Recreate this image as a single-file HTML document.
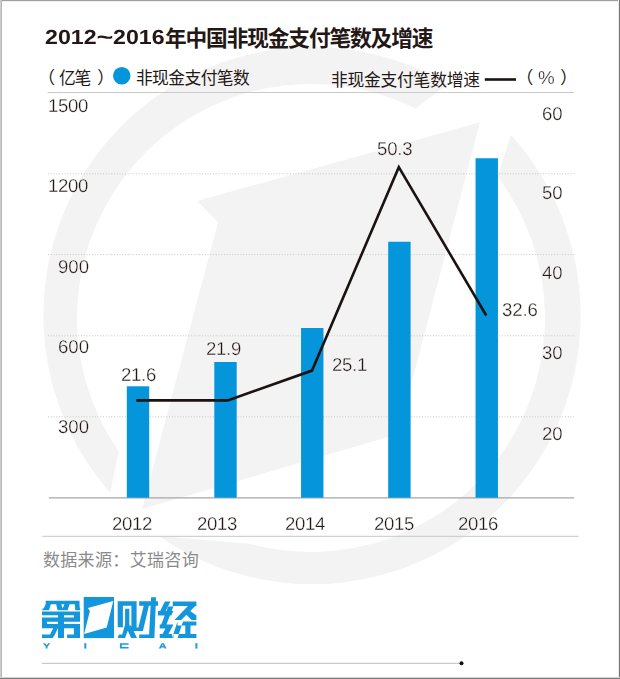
<!DOCTYPE html>
<html lang="zh-CN"><head><meta charset="utf-8"><title>2012~2016年中国非现金支付笔数及增速</title>
<style>
html,body{margin:0;padding:0;background:#fff}
body{width:620px;height:679px;position:relative;overflow:hidden;font-family:"Liberation Sans","Noto Sans CJK SC",sans-serif;color:#231815}
svg{position:absolute;left:0;top:0}
svg text{font-family:"Liberation Sans","Noto Sans CJK SC",sans-serif}
.t{position:absolute;line-height:1;white-space:nowrap;text-rendering:geometricPrecision;-webkit-text-stroke:0.3px #fff;will-change:transform}
.b{-webkit-text-stroke:0}
</style></head><body>
<svg width="620" height="679" viewBox="0 0 620 679">
<path d="M448.0,84.0 A268.5,268.5 0 0 0 110.2,492.7 L118.7,451.3 A234,234 0 0 1 415.5,108.6 Z M510.9,135.1 A268.5,268.5 0 0 1 158.9,536.1 L249.3,543.7 A234,234 0 0 0 497.5,176.7 Z" fill="#f3f3f3"/>
<path d="M197.1,201 L480,122.3 L398.2,434 L142,509 L218,222.3 Z" fill="#f3f3f3"/>
<line x1="48" y1="416.8" x2="575" y2="416.8" stroke="#c8c8c8" stroke-width="1" stroke-dasharray="1 1.75"/>
<line x1="48" y1="335.8" x2="575" y2="335.8" stroke="#c8c8c8" stroke-width="1" stroke-dasharray="1 1.75"/>
<line x1="48" y1="254.6" x2="575" y2="254.6" stroke="#c8c8c8" stroke-width="1" stroke-dasharray="1 1.75"/>
<line x1="48" y1="173.8" x2="575" y2="173.8" stroke="#c8c8c8" stroke-width="1" stroke-dasharray="1 1.75"/>
<line x1="47.5" y1="92.5" x2="574" y2="92.5" stroke="#c9c9c9" stroke-width="1"/>
<line x1="48.8" y1="497.9" x2="574" y2="497.9" stroke="#a6a6a6" stroke-width="1.2"/>
<line x1="42.2" y1="536.3" x2="578.5" y2="536.3" stroke="#c6c6c6" stroke-width="1"/>
<rect x="126.80" y="386.3" width="22.4" height="111.40" fill="#0595da"/>
<rect x="214.30" y="362" width="22.4" height="135.70" fill="#0595da"/>
<rect x="301.05" y="328" width="22.4" height="169.70" fill="#0595da"/>
<rect x="388.20" y="241.75" width="22.4" height="255.95" fill="#0595da"/>
<rect x="475.55" y="158.25" width="22.4" height="339.45" fill="#0595da"/>
<polyline fill="none" stroke="#1a1311" stroke-width="2.6" stroke-linejoin="miter" points="136.2,400.4 227.8,400.4 312,370.6 398.8,167.2 486.3,315.5"/>
<circle cx="121.75" cy="75.75" r="8.75" fill="#0595da"/>
<line x1="484.8" y1="79.5" x2="516" y2="79.5" stroke="#1a1311" stroke-width="2.6"/>
<line x1="42" y1="663.3" x2="461" y2="663.3" stroke="#bdbdbd" stroke-width="1"/>
<circle cx="461.5" cy="663.3" r="2" fill="#111"/>
<text x="164.95" y="45.7" font-size="21.7" font-weight="bold" letter-spacing="-1.12" fill="#231815">年中国非现金支付笔数及增速</text>
<text x="59" y="83.7" font-size="16.8" letter-spacing="-1.2" fill="#231815">亿笔</text>
<text x="38" y="84.15" font-size="17" fill="#231815">（</text>
<text x="97.3" y="84.15" font-size="17" fill="#231815">）</text>
<text x="135.94" y="83.7" font-size="16.8" letter-spacing="-0.6" fill="#231815">非现金支付笔数</text>
<text x="330.94" y="85.7" font-size="16.8" letter-spacing="-0.25" fill="#231815">非现金支付笔数增速</text>
<text x="42.9" y="566.2" font-size="17" letter-spacing="0.35" fill="#8a8a8a">数据来源：艾瑞咨询</text>
<text x="516.3" y="84.3" font-size="17" fill="#231815">（</text>
<text x="560.2" y="84.3" font-size="17" fill="#231815">）</text>
<rect x="0" y="1" width="620" height="1" fill="#efefef"/>
<rect x="0" y="0" width="620" height="1" fill="#9e9e9e"/>
<rect x="0" y="0" width="1" height="679" fill="#cecece"/>
<rect x="1" y="0" width="1" height="679" fill="#b6b6b6"/>
<rect x="618" y="0" width="1" height="679" fill="#ececec"/>
<rect x="619" y="0" width="1" height="679" fill="#757575"/>
<rect x="0" y="677" width="620" height="1" fill="#d2d2d2"/>
<rect x="0" y="678" width="620" height="1" fill="#7c7c7c"/>
<g fill="#1496dc">
<path d="M45.70,600.70 L79.50,600.70 L79.50,604.20 L45.70,604.20Z M45.70,604.00 L50.90,604.00 L49.00,610.20 L42.90,610.20Z M42.40,608.40 L49.20,608.40 L49.20,610.20 L42.40,610.20Z M56.10,604.00 L61.20,604.00 L63.20,610.20 L57.60,610.20Z M64.50,604.00 L69.60,604.00 L67.70,610.20 L61.90,610.20Z M57.80,608.40 L67.50,608.40 L67.50,610.20 L57.80,610.20Z M74.80,604.00 L79.50,604.00 L80.00,610.20 L75.40,610.20Z M75.20,608.40 L80.30,608.40 L80.30,610.20 L75.20,610.20Z M42.00,611.40 L80.00,611.40 L80.00,615.30 L42.00,615.30Z M73.90,611.40 L80.00,611.40 L80.00,621.70 L73.90,621.70Z M42.00,617.50 L80.00,617.50 L80.00,621.70 L42.00,621.70Z M42.00,617.50 L47.10,617.50 L47.10,628.20 L42.00,628.20Z M42.00,623.90 L80.00,623.90 L80.00,628.20 L42.00,628.20Z M58.00,611.40 L64.00,611.40 L64.00,638.10 L58.00,638.10Z M73.90,623.90 L80.00,623.90 L80.00,638.10 L73.90,638.10Z M67.10,634.60 L80.00,634.60 L80.00,638.10 L67.10,638.10Z M53.60,627.50 L58.20,627.50 L54.00,636.50 L49.00,636.50Z M42.00,634.60 L53.20,634.60 L53.20,638.10 L42.00,638.10Z M117.70,601.30 L136.60,601.30 L136.60,605.80 L117.70,605.80Z M117.70,601.30 L122.90,601.30 L122.90,627.20 L117.70,627.20Z M131.40,601.30 L136.60,601.30 L136.60,631.00 L131.40,631.00Z M125.10,608.70 L129.30,608.70 L129.30,627.00 L125.10,627.00Z M125.10,624.40 L129.90,624.40 L125.10,638.10 L117.70,638.10 L118.80,634.40 L122.20,634.40Z M126.60,628.10 L130.70,625.20 L137.00,638.10 L131.10,638.10Z M139.20,601.30 L158.00,601.30 L158.00,605.80 L139.20,605.80Z M151.10,597.20 L156.00,597.20 L154.40,638.10 L148.90,638.10Z M139.20,634.40 L150.00,634.40 L150.00,638.10 L139.20,638.10Z M143.70,605.80 L148.90,605.80 L142.90,631.10 L134.00,631.10 L135.20,627.60 L138.40,627.60Z M164.90,601.50 L170.50,601.50 L163.40,615.50 L157.90,615.50Z M157.90,611.10 L173.40,611.10 L171.20,615.50 L157.90,615.50Z M168.20,606.60 L173.40,606.60 L164.90,628.50 L159.70,628.50Z M159.70,624.40 L173.40,624.40 L171.40,628.50 L159.70,628.50Z M167.50,624.40 L173.40,624.40 L166.40,638.10 L160.50,638.10Z M159.70,634.10 L172.00,634.10 L172.00,638.10 L159.70,638.10Z M172.00,638.10 L177.50,638.10 L183.00,621.50 L177.50,621.50Z M172.70,601.50 L196.40,601.50 L196.40,605.90 L172.70,605.90Z M187.90,605.90 L195.30,605.90 L181.20,620.00 L174.50,620.00Z M183.40,611.80 L187.90,609.20 L196.40,615.50 L196.40,620.00 L191.60,620.00Z M177.50,621.50 L196.40,621.50 L196.40,625.50 L177.50,625.50Z M185.30,625.50 L190.50,625.50 L190.50,634.10 L185.30,634.10Z M173.40,634.10 L196.40,634.10 L196.40,638.10 L173.40,638.10Z"/>
<rect x="83.7" y="597" width="30.3" height="41.1"/>
</g>
<path fill="#fff" d="M113.3,601 L87.9,608.1 L89.9,611.1 L84.1,634.1 L106.7,627.6 Z"/>
<g fill="#1f9bdc">
<path d="M43.0,643.2 L45.1,643.2 L46.6,645.5 L48.1,643.2 L50.2,643.2 L47.5,646.7 L47.5,648.6 L45.7,648.6 L45.7,646.7 Z"/>
<rect x="84.30" y="643.20" width="2.00" height="5.40"/>
<path d="M119.9,643.2 H128.6 V644.7 H121.8 V647.1 H128.6 V648.6 H119.9 Z"/>
<path d="M161.6,643.2 H163.8 L166.6,648.6 H164.6 L164.1,647.4 H161.3 L160.8,648.6 H158.8 Z M162.7,644.6 L161.8,646.1 H163.6 Z" fill-rule="evenodd"/>
<rect x="195.40" y="643.20" width="2.00" height="5.40"/>
</g>
</svg>
<div class="t" style="left:45.4px;top:28px;font-size:20.5px;font-weight:bold;-webkit-text-stroke:0;transform:scaleX(1.13);transform-origin:0 0;">2012</div>
<div class="t" style="left:5px;width:200px;text-align:center;top:28px;font-size:20.5px;font-weight:bold;-webkit-text-stroke:0;transform:scaleX(1.4);">~</div>
<div class="t" style="left:112.9px;top:28px;font-size:20.5px;font-weight:bold;-webkit-text-stroke:0;transform:scaleX(1.13);transform-origin:0 0;">2016</div>
<div class="t" style="left:48px;top:97px;font-size:18.6px;letter-spacing:-0.3px;">1500</div>
<div class="t" style="left:48px;top:177px;font-size:18.6px;letter-spacing:-0.3px;">1200</div>
<div class="t" style="left:58px;top:258px;font-size:18.6px;">900</div>
<div class="t" style="left:58px;top:338px;font-size:18.6px;">600</div>
<div class="t" style="left:58px;top:418px;font-size:18.6px;">300</div>
<div class="t" style="left:542.4px;top:105px;font-size:18.6px;letter-spacing:-0.2px;">60</div>
<div class="t" style="left:542.4px;top:184px;font-size:18.6px;letter-spacing:-0.2px;">50</div>
<div class="t" style="left:542.4px;top:264px;font-size:18.6px;letter-spacing:-0.2px;">40</div>
<div class="t" style="left:542.4px;top:344px;font-size:18.6px;letter-spacing:-0.2px;">30</div>
<div class="t" style="left:542.4px;top:425px;font-size:18.6px;letter-spacing:-0.2px;">20</div>
<div class="t" style="left:112.0px;top:515px;font-size:18.6px;letter-spacing:-0.3px;">2012</div>
<div class="t" style="left:197.0px;top:515px;font-size:18.6px;letter-spacing:-0.3px;">2013</div>
<div class="t" style="left:285.25px;top:515px;font-size:18.6px;letter-spacing:-0.3px;">2014</div>
<div class="t" style="left:373.5px;top:515px;font-size:18.6px;letter-spacing:-0.3px;">2015</div>
<div class="t" style="left:458.25px;top:515px;font-size:18.6px;letter-spacing:-0.3px;">2016</div>
<div class="t" style="left:121px;top:366px;font-size:18.6px;letter-spacing:-0.3px;">21.6</div>
<div class="t" style="left:206px;top:340px;font-size:18.6px;letter-spacing:-0.3px;">21.9</div>
<div class="t" style="left:331.5px;top:356px;font-size:18.6px;letter-spacing:-0.3px;">25.1</div>
<div class="t" style="left:376.8px;top:140px;font-size:18.6px;letter-spacing:-0.2px;">50.3</div>
<div class="t" style="left:501.5px;top:301px;font-size:18.6px;letter-spacing:-0.1px;">32.6</div>
<div class="t" style="left:537.8px;top:69px;font-size:18.8px;">%</div>
</body></html>
